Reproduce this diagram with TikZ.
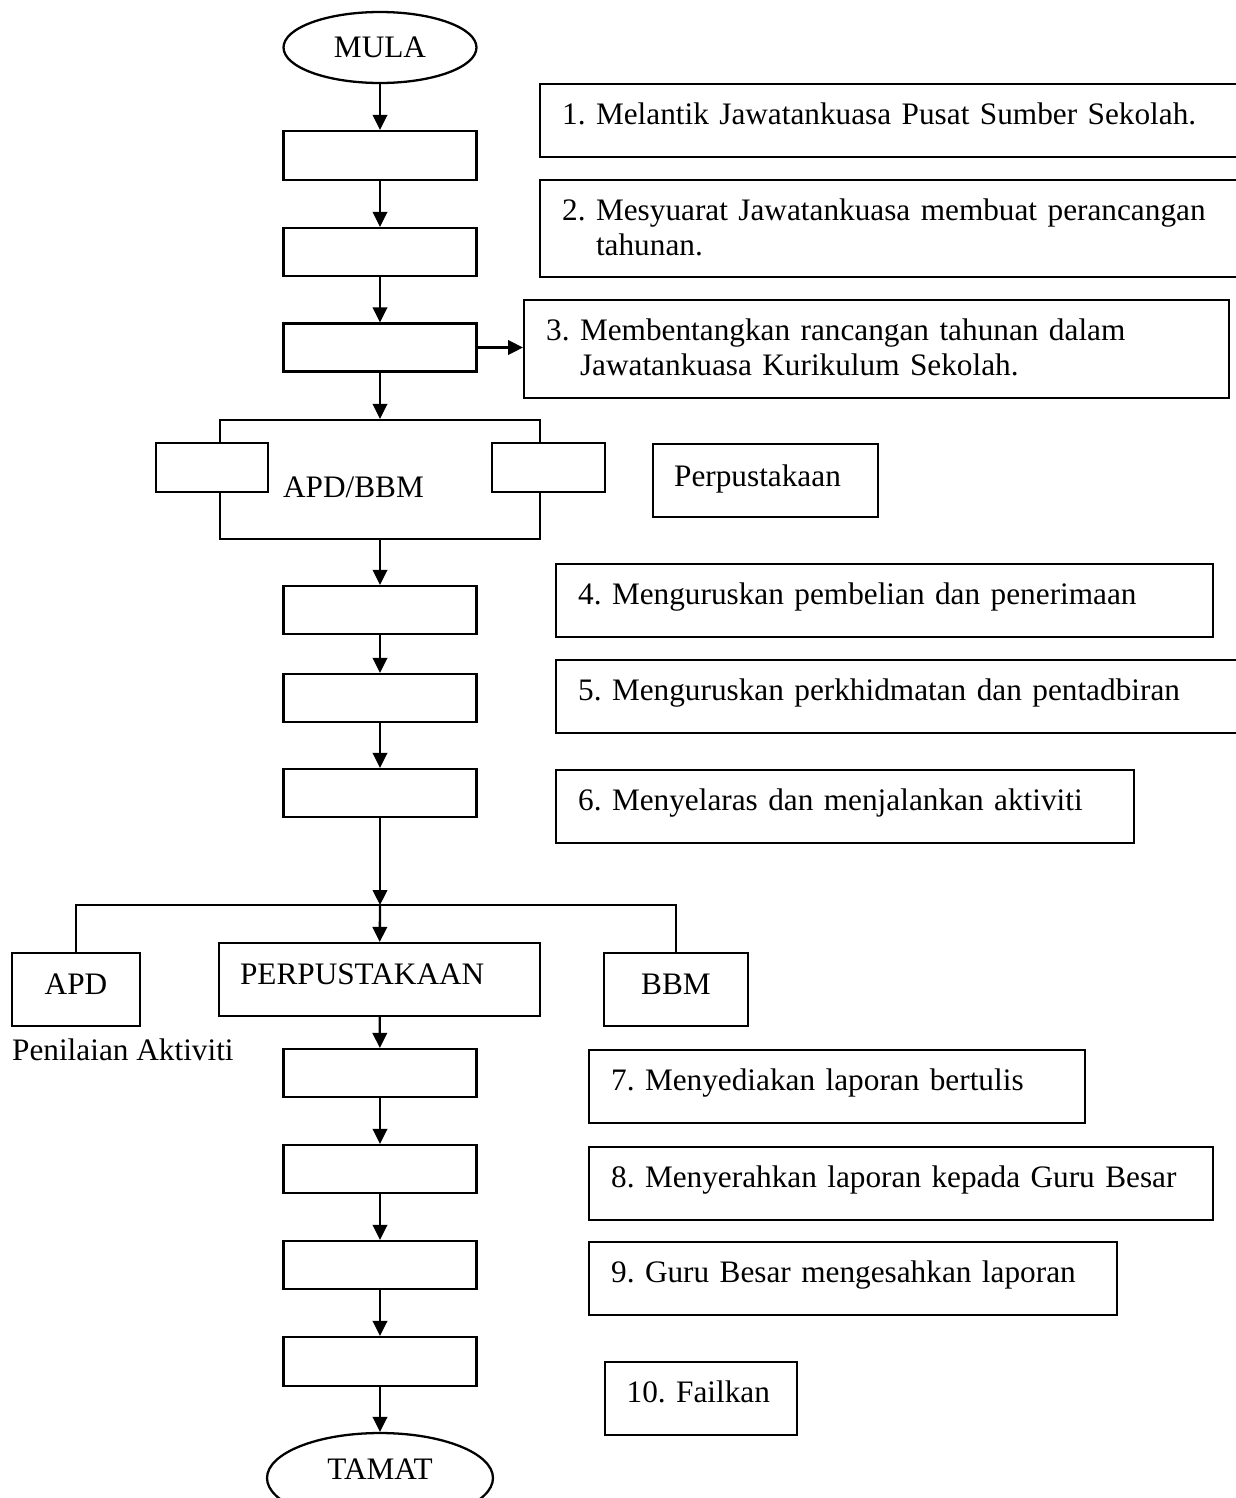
\documentclass[tikz,border=0pt]{standalone}
\usepackage{fontspec}
\setmainfont{Liberation Serif}
\usetikzlibrary{arrows.meta, shapes.geometric}
\tikzset{
  every picture/.style={line width=1.3pt},
  every node/.append style={font=\fontsize{17.8}{20}\selectfont\frenchspacing},
  flow/.style={draw, minimum width=3.86cm, minimum height=0.96cm, inner sep=0pt},
  term/.style={draw, ellipse, inner sep=0pt},
  plain/.style={draw, fill=white, inner sep=0pt},
  desc/.style={draw, anchor=north west, align=left, inner xsep=0.44cm, inner ysep=0pt,
    text height=0.8cm, text depth=#1},
  desc/.default=0.66cm,
  arrow/.style={-{Triangle[length=0.3cm, width=0.29cm]}},
}

\begin{document}
\begin{tikzpicture}[x=0.02cm, y=-0.02cm]
  \useasboundingbox (0,0) rectangle (1236,1498);
  \clip (0,0) rectangle (1236,1498);
  % main column, top part
  \node[term, minimum width=3.86cm, minimum height=1.42cm] (mula) at (380,47.5) {MULA};
  \node[flow, minimum height=0.98cm] (b1) at (380,155.5) {};
  \node[flow] (b2) at (380,252) {};
  \node[flow] (b3) at (380,347.5) {};
  \draw[arrow] (mula) -- (b1);
  \draw[arrow] (b1) -- (b2);
  \draw[arrow] (b2) -- (b3);
  % steps 1-3
  \node[desc, text width=13.54cm] (d1) at (539,83) {1. Melantik Jawatankuasa Pusat Sumber Sekolah.};
  \node[desc=1.14cm, text width=13.54cm] (d2) at (539,179)
    {2. Mesyuarat Jawatankuasa membuat perancangan\\\phantom{2. }tahunan.};
  \node[desc=1.16cm, text width=13.22cm] (d3) at (523,299)
    {3. Membentangkan rancangan tahunan dalam\\\phantom{3. }Jawatankuasa Kurikulum Sekolah.};
  \draw[arrow] (b3.east) -- (b3.east -| d3.west);
  % APD/BBM frame
  \node[draw, minimum width=6.4cm, minimum height=2.38cm, inner sep=0pt] (frame) at (380,479.5) {};
  \node[plain, minimum width=2.24cm, minimum height=0.98cm] (sidel) at (212,467.5) {};
  \node[plain, minimum width=2.26cm, minimum height=0.98cm] (sider) at (548.5,467.5) {};
  \node[inner sep=0pt, anchor=base west] (apdbbm) at (282,497) {APD/BBM};
  \node[desc=0.62cm, text height=0.84cm, inner xsep=0.42cm, text width=3.66cm] (pus) at (652,443) {Perpustakaan};
  \draw[arrow] (b3) -- (frame);
  % steps 4-6
  \node[flow] (b4) at (380,610) {};
  \node[flow] (b5) at (380,698) {};
  \node[flow] (b6) at (380,793) {};
  \draw[arrow] (frame) -- (b4);
  \draw[arrow] (b4) -- (b5);
  \draw[arrow] (b5) -- (b6);
  \node[desc, text width=12.26cm] (d4) at (555,563) {4. Menguruskan pembelian dan penerimaan};
  \node[desc, text width=13.22cm] (d5) at (555,659) {5. Menguruskan perkhidmatan dan pentadbiran};
  \node[desc, text width=10.68cm] (d6) at (555,769) {6. Menyelaras dan menjalankan aktiviti};
  % branches
  \coordinate (jn) at (380,905);
  \node[draw, minimum width=2.56cm, minimum height=1.46cm, inner sep=0pt, text depth=0.2cm] (apd) at (76,989.5) {APD};
  \node[draw, minimum width=6.42cm, minimum height=1.46cm, inner xsep=0.42cm, inner ysep=0pt,
    text width=5.58cm, align=left, text depth=0.2cm] (perp) at (379.5,979.5) {PERPUSTAKAAN};
  \node[draw, minimum width=2.88cm, minimum height=1.46cm, inner sep=0pt, text depth=0.2cm] (bbm) at (676,989.5) {BBM};
  \node[inner sep=0pt, anchor=base west] (nilai) at (11,1060) {Penilaian Aktiviti};
  \draw[arrow] (b6) -- (jn);
  \draw (apd.north) -- (apd.north |- jn) -- (bbm.north |- jn) -- (bbm.north);
  \draw[arrow] (jn) -- (perp);
  % steps 7-10
  \node[flow] (b7) at (380,1073) {};
  \node[flow] (b8) at (380,1169) {};
  \node[flow] (b9) at (380,1265) {};
  \node[flow, minimum height=0.98cm] (b10) at (380,1361.5) {};
  \node[term, minimum width=4.52cm, minimum height=1.8cm, text depth=0.36cm] (tamat) at (380,1478) {TAMAT};
  \draw[arrow] (perp) -- (b7);
  \draw[arrow] (b7) -- (b8);
  \draw[arrow] (b8) -- (b9);
  \draw[arrow] (b9) -- (b10);
  \draw[arrow] (b10) -- (tamat);
  \node[desc, text width=9.04cm] (d7) at (588,1049) {7. Menyediakan laporan bertulis};
  \node[desc, text width=11.6cm] (d8) at (588,1146) {8. Menyerahkan laporan kepada Guru Besar};
  \node[desc, text width=9.68cm] (d9) at (588,1241) {9. Guru Besar mengesahkan laporan};
  \node[desc, text width=2.97cm] (d10) at (603.5,1361) {\mbox{10. Failkan}};
\end{tikzpicture}
\end{document}
